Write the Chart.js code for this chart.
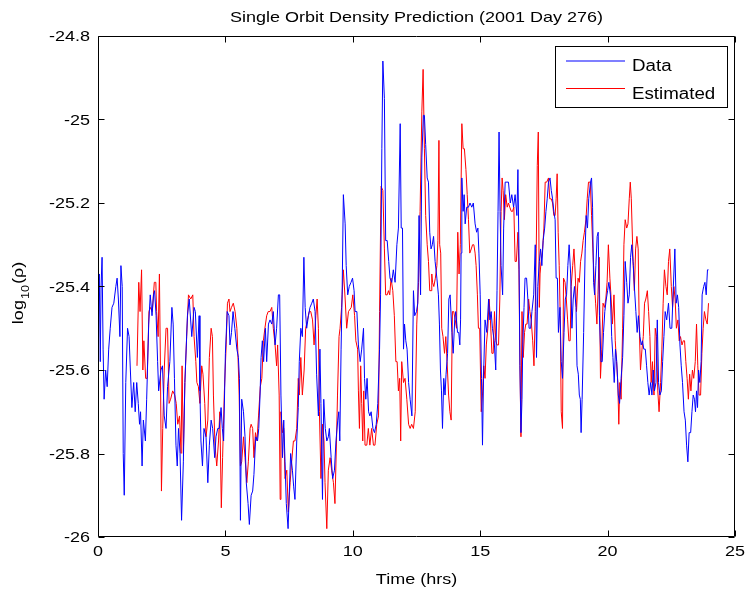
<!DOCTYPE html>
<html><head><meta charset="utf-8">
<script src="https://cdn.jsdelivr.net/npm/chart.js@4/dist/chart.umd.min.js"></script>
<style>html,body{margin:0;padding:0;background:#fff}#wrap{width:746px;height:592px}</style>
</head><body><div id="wrap"><canvas id="c" width="746" height="592"></canvas></div>
<script>
const chartTitle = "Single Orbit Density Prediction (2001 Day 276)";
const xLabel = "Time (hrs)";
const seriesNames = ["Data", "Estimated"];
const xTicks = [0, 5, 10, 15, 20, 25];
const xTickLabels = ["0", "5", "10", "15", "20", "25"];
const yTicks = [-26, -25.8, -25.6, -25.4, -25.2, -25, -24.8];
const yTickLabels = ["-26", "-25.8", "-25.6", "-25.4", "-25.2", "-25", "-24.8"];

const dataTimes = [0.00,0.05,0.09,0.12,0.16,0.20,0.24,0.30,0.36,0.42,0.48,0.55,0.62,0.70,0.75,0.80,0.86,0.90,0.95,0.99,
1.03,1.09,1.16,1.22,1.27,1.33,1.40,1.46,1.52,1.58,1.63,1.67,1.73,1.78,1.86,1.91,1.99,2.05,2.12,2.18,
2.22,2.28,2.34,2.38,2.47,2.53,2.60,2.67,2.73,2.82,2.90,2.95,3.00,3.06,3.11,3.16,3.22,3.28,3.35,3.41,
3.51,3.58,3.68,3.77,3.82,3.90,3.97,4.00,4.04,4.10,4.16,4.24,4.31,4.37,4.44,4.50,4.58,4.63,4.70,4.76,
4.83,4.88,4.93,5.00,5.07,5.14,5.18,5.24,5.30,5.37,5.45,5.51,5.55,5.59,5.64,5.71,5.77,5.82,5.89,5.94,
6.01,6.07,6.12,6.19,6.26,6.31,6.36,6.40,6.45,6.50,6.57,6.62,6.69,6.75,6.82,6.88,6.95,7.01,7.08,7.13,
7.18,7.24,7.29,7.34,7.39,7.46,7.51,7.56,7.63,7.68,7.73,7.80,7.86,7.90,7.96,8.02,8.08,8.13,8.19,8.26,
8.32,8.39,8.45,8.52,8.58,8.65,8.71,8.75,8.81,8.86,8.92,8.98,9.04,9.08,9.15,9.21,9.28,9.34,9.41,9.45,
9.49,9.54,9.58,9.63,9.70,9.74,9.80,9.86,9.93,9.99,10.05,10.09,10.16,10.22,10.29,10.35,10.42,10.46,10.51,10.56,
10.62,10.67,10.72,10.79,10.85,10.92,10.98,11.05,11.09,11.14,11.18,11.24,11.29,11.35,11.41,11.46,11.53,11.59,11.66,11.73,
11.79,11.86,11.90,11.95,11.99,12.03,12.08,12.13,12.19,12.25,12.32,12.38,12.43,12.50,12.55,12.60,12.66,12.71,12.77,12.81,
12.86,12.92,12.97,13.02,13.07,13.12,13.17,13.23,13.30,13.36,13.40,13.44,13.48,13.52,13.57,13.62,13.66,13.72,13.77,13.82,
13.89,13.94,14.00,14.04,14.11,14.16,14.20,14.23,14.25,14.28,14.33,14.37,14.41,14.47,14.54,14.60,14.67,14.73,14.80,14.86,
14.91,14.95,15.00,15.05,15.09,15.13,15.19,15.26,15.33,15.38,15.43,15.48,15.55,15.61,15.66,15.70,15.74,15.78,15.82,15.88,
15.92,15.98,16.05,16.11,16.18,16.24,16.31,16.37,16.44,16.48,16.52,16.56,16.60,16.64,16.67,16.72,16.76,16.82,16.87,16.92,
16.98,17.03,17.10,17.16,17.21,17.26,17.32,17.37,17.42,17.47,17.53,17.58,17.63,17.68,17.74,17.79,17.84,17.89,17.94,17.98,
18.03,18.07,18.13,18.18,18.23,18.29,18.34,18.39,18.44,18.49,18.55,18.60,18.65,18.70,18.76,18.80,18.85,18.89,18.93,18.96,
19.00,19.06,19.12,19.16,19.21,19.26,19.33,19.37,19.41,19.45,19.49,19.54,19.59,19.63,19.68,19.74,19.79,19.84,19.89,19.95,
20.00,20.05,20.11,20.16,20.21,20.26,20.31,20.36,20.42,20.47,20.53,20.59,20.64,20.69,20.75,20.80,20.85,20.90,20.95,21.01,
21.06,21.11,21.16,21.21,21.27,21.32,21.37,21.42,21.48,21.53,21.58,21.63,21.69,21.74,21.79,21.84,21.90,21.95,22.00,22.05,
22.11,22.16,22.21,22.26,22.32,22.39,22.45,22.52,22.58,22.64,22.69,22.74,22.79,22.84,22.89,22.94,23.00,23.05,23.10,23.15,
23.20,23.26,23.31,23.36,23.41,23.45,23.49,23.53,23.57,23.62,23.67,23.71,23.77,23.82,23.87,23.92,23.96];
const dataValues = [-25.47,-25.37,-25.58,-25.40,-25.33,-25.55,-25.67,-25.60,-25.64,-25.55,-25.50,-25.45,-25.44,-25.40,-25.38,-25.43,-25.52,-25.35,-25.40,-25.80,
-25.90,-25.63,-25.50,-25.52,-25.60,-25.69,-25.63,-25.70,-25.63,-25.68,-25.73,-25.70,-25.83,-25.72,-25.77,-25.67,-25.49,-25.42,-25.47,-25.42,
-25.41,-25.47,-25.58,-25.65,-25.60,-25.59,-25.71,-25.74,-25.64,-25.58,-25.45,-25.49,-25.62,-25.78,-25.83,-25.74,-25.80,-25.96,-25.82,-25.63,
-25.47,-25.43,-25.52,-25.45,-25.46,-25.57,-25.47,-25.65,-25.77,-25.83,-25.74,-25.76,-25.87,-25.78,-25.72,-25.74,-25.81,-25.76,-25.74,-25.74,
-25.69,-25.74,-25.77,-25.56,-25.46,-25.47,-25.54,-25.51,-25.46,-25.50,-25.55,-25.57,-25.62,-25.96,-25.67,-25.70,-25.76,-25.87,-25.92,-25.97,
-25.90,-25.89,-25.85,-25.76,-25.77,-25.74,-25.66,-25.57,-25.53,-25.58,-25.50,-25.58,-25.49,-25.48,-25.49,-25.46,-25.54,-25.50,-25.42,-25.42,
-25.66,-25.81,-25.72,-25.82,-25.92,-25.98,-25.89,-25.80,-25.84,-25.88,-25.91,-25.77,-25.69,-25.58,-25.50,-25.52,-25.33,-25.45,-25.50,-25.47,
-25.45,-25.44,-25.43,-25.46,-25.61,-25.71,-25.55,-25.68,-25.91,-25.67,-25.74,-25.77,-25.76,-25.74,-25.81,-25.86,-25.84,-25.77,-25.72,-25.70,
-25.77,-25.55,-25.42,-25.18,-25.25,-25.35,-25.42,-25.40,-25.39,-25.38,-25.41,-25.46,-25.46,-25.54,-25.58,-25.55,-25.50,-25.62,-25.67,-25.62,
-25.70,-25.71,-25.70,-25.74,-25.75,-25.73,-25.68,-25.55,-25.42,-25.07,-24.86,-24.95,-25.29,-25.29,-25.34,-25.38,-25.39,-25.36,-25.39,-25.30,
-25.26,-25.01,-25.26,-25.26,-25.55,-25.49,-25.53,-25.55,-25.63,-25.67,-25.71,-25.41,-25.47,-25.46,-25.44,-25.23,-25.42,-25.09,-24.99,-24.99,
-25.06,-25.14,-25.15,-25.27,-25.31,-25.30,-25.28,-25.34,-25.38,-25.42,-25.49,-25.60,-25.65,-25.74,-25.62,-25.66,-25.61,-25.56,-25.43,-25.42,
-25.51,-25.56,-25.48,-25.46,-25.51,-25.51,-25.54,-25.48,-25.32,-25.14,-25.22,-25.18,-25.25,-25.21,-25.21,-25.20,-25.21,-25.20,-25.25,-25.27,
-25.26,-25.32,-25.42,-25.62,-25.78,-25.62,-25.48,-25.51,-25.43,-25.48,-25.46,-25.50,-25.53,-25.60,-25.41,-25.22,-25.03,-25.22,-25.35,-25.42,
-25.26,-25.15,-25.15,-25.15,-25.20,-25.18,-25.21,-25.18,-25.23,-25.12,-25.31,-25.59,-25.75,-25.67,-25.54,-25.45,-25.38,-25.38,-25.43,-25.50,
-25.50,-25.46,-25.42,-25.30,-25.57,-25.40,-25.34,-25.31,-25.35,-25.29,-25.26,-25.22,-25.19,-25.15,-25.14,-25.17,-25.19,-25.22,-25.24,-25.38,
-25.38,-25.51,-25.45,-25.58,-25.62,-25.51,-25.43,-25.42,-25.35,-25.30,-25.37,-25.50,-25.43,-25.40,-25.45,-25.59,-25.61,-25.66,-25.67,-25.75,
-25.67,-25.51,-25.31,-25.23,-25.26,-25.19,-25.15,-25.14,-25.21,-25.39,-25.42,-25.35,-25.28,-25.27,-25.47,-25.58,-25.58,-25.51,-25.46,-25.43,
-25.41,-25.39,-25.42,-25.52,-25.57,-25.63,-25.55,-25.58,-25.66,-25.68,-25.62,-25.57,-25.47,-25.34,-25.39,-25.44,-25.42,-25.33,-25.30,-25.35,
-25.41,-25.46,-25.51,-25.47,-25.52,-25.54,-25.53,-25.55,-25.55,-25.59,-25.63,-25.66,-25.63,-25.66,-25.60,-25.65,-25.63,-25.48,-25.63,-25.66,
-25.65,-25.58,-25.52,-25.46,-25.48,-25.44,-25.50,-25.50,-25.40,-25.31,-25.44,-25.42,-25.45,-25.54,-25.59,-25.63,-25.70,-25.72,-25.78,-25.82,
-25.75,-25.75,-25.70,-25.66,-25.67,-25.70,-25.65,-25.69,-25.60,-25.63,-25.58,-25.42,-25.40,-25.39,-25.42,-25.36,-25.36];

const estTimes = [1.53,1.60,1.65,1.71,1.76,1.80,1.87,1.93,2.00,2.05,2.13,2.21,2.27,2.30,2.36,2.41,2.45,2.49,2.54,2.60,
2.67,2.73,2.79,2.85,2.93,3.01,3.07,3.13,3.20,3.26,3.30,3.35,3.41,3.48,3.55,3.64,3.72,3.77,3.84,3.88,
3.94,4.00,4.07,4.12,4.19,4.24,4.31,4.37,4.44,4.49,4.53,4.59,4.66,4.73,4.78,4.84,4.89,4.96,5.03,5.08,
5.14,5.18,5.24,5.31,5.38,5.45,5.49,5.54,5.59,5.64,5.71,5.77,5.84,5.90,5.97,6.01,6.07,6.12,6.18,6.24,
6.30,6.37,6.43,6.49,6.55,6.62,6.68,6.75,6.82,6.88,6.95,7.01,7.05,7.11,7.15,7.18,7.24,7.29,7.34,7.41,
7.47,7.54,7.60,7.67,7.73,7.80,7.86,7.90,7.96,8.02,8.09,8.15,8.22,8.29,8.35,8.42,8.48,8.55,8.60,8.65,
8.69,8.75,8.81,8.87,8.91,8.98,9.04,9.11,9.17,9.24,9.30,9.36,9.40,9.46,9.50,9.56,9.63,9.70,9.76,9.83,
9.94,10.00,10.07,10.12,10.19,10.22,10.26,10.31,10.35,10.39,10.43,10.48,10.55,10.61,10.67,10.74,10.81,10.87,10.94,11.01,
11.05,11.11,11.18,11.24,11.29,11.35,11.40,11.45,11.50,11.57,11.63,11.69,11.74,11.79,11.84,11.88,11.92,11.99,12.05,12.12,
12.19,12.25,12.31,12.38,12.45,12.51,12.58,12.64,12.71,12.76,12.81,12.86,12.92,12.97,13.02,13.07,13.10,13.13,13.18,13.24,
13.30,13.34,13.38,13.41,13.45,13.49,13.54,13.60,13.65,13.70,13.76,13.81,13.86,13.91,13.96,14.02,14.07,14.12,14.17,14.22,
14.28,14.33,14.38,14.44,14.49,14.54,14.59,14.65,14.70,14.75,14.80,14.84,14.89,14.93,14.98,15.04,15.09,15.14,15.19,15.24,
15.30,15.35,15.40,15.46,15.51,15.56,15.61,15.66,15.72,15.77,15.82,15.86,15.90,15.95,16.00,16.06,16.11,16.16,16.22,16.27,
16.32,16.37,16.42,16.48,16.52,16.56,16.60,16.64,16.69,16.74,16.79,16.84,16.90,16.95,17.00,17.06,17.11,17.16,17.20,17.24,
17.28,17.32,17.35,17.39,17.45,17.50,17.55,17.61,17.68,17.73,17.79,17.84,17.89,17.94,17.98,18.02,18.06,18.10,18.14,18.18,
18.23,18.27,18.33,18.38,18.43,18.48,18.53,18.57,18.63,18.68,18.73,18.78,18.84,18.89,18.94,18.99,19.04,19.09,19.15,19.20,
19.25,19.32,19.37,19.42,19.47,19.53,19.58,19.62,19.67,19.72,19.77,19.82,19.88,19.93,19.98,20.03,20.09,20.14,20.19,20.25,
20.30,20.35,20.40,20.44,20.48,20.53,20.59,20.64,20.69,20.75,20.80,20.85,20.89,20.93,21.00,21.05,21.10,21.15,21.20,21.24,
21.29,21.35,21.40,21.45,21.50,21.56,21.61,21.66,21.71,21.76,21.82,21.87,21.92,21.97,22.02,22.08,22.13,22.18,22.23,22.29,
22.34,22.39,22.44,22.50,22.55,22.60,22.65,22.70,22.76,22.81,22.86,22.92,22.97,23.02,23.07,23.12,23.17,23.22,23.27,23.33,
23.38,23.44,23.49,23.54,23.59,23.65,23.70,23.75,23.80,23.86,23.91,23.96];
const estValues = [-25.59,-25.39,-25.46,-25.36,-25.60,-25.53,-25.62,-25.62,-25.46,-25.45,-25.46,-25.39,-25.39,-25.46,-25.52,-25.37,-25.59,-25.89,-25.74,-25.60,
-25.50,-25.50,-25.68,-25.67,-25.65,-25.66,-25.68,-25.73,-25.71,-25.80,-25.59,-25.80,-25.63,-25.52,-25.42,-25.43,-25.42,-25.52,-25.58,-25.63,
-25.64,-25.68,-25.59,-25.61,-25.68,-25.76,-25.72,-25.57,-25.50,-25.52,-25.66,-25.78,-25.83,-25.77,-25.70,-25.93,-25.81,-25.65,-25.54,-25.44,
-25.43,-25.46,-25.45,-25.44,-25.46,-25.50,-25.56,-25.66,-25.83,-25.82,-25.76,-25.81,-25.87,-25.82,-25.74,-25.73,-25.74,-25.81,-25.75,-25.77,
-25.71,-25.64,-25.62,-25.53,-25.50,-25.47,-25.46,-25.46,-25.45,-25.50,-25.54,-25.59,-25.54,-25.66,-25.91,-25.70,-25.75,-25.74,-25.86,-25.84,
-25.94,-25.87,-25.82,-25.77,-25.77,-25.74,-25.62,-25.66,-25.57,-25.66,-25.60,-25.50,-25.48,-25.46,-25.46,-25.48,-25.54,-25.47,-25.43,-25.50,
-25.70,-25.86,-25.73,-25.77,-25.87,-25.98,-25.84,-25.81,-25.84,-25.87,-25.92,-25.77,-25.66,-25.52,-25.50,-25.45,-25.36,-25.43,-25.50,-25.46,
-25.45,-25.42,-25.47,-25.53,-25.55,-25.65,-25.74,-25.59,-25.68,-25.77,-25.65,-25.78,-25.78,-25.74,-25.78,-25.74,-25.78,-25.78,-25.73,-25.71,
-25.46,-25.16,-25.17,-25.31,-25.42,-25.42,-25.41,-25.42,-25.38,-25.41,-25.47,-25.58,-25.58,-25.65,-25.62,-25.77,-25.58,-25.63,-25.62,-25.67,
-25.73,-25.74,-25.73,-25.74,-25.70,-25.49,-25.39,-25.22,-24.98,-24.88,-25.07,-25.23,-25.30,-25.34,-25.41,-25.41,-25.37,-25.39,-25.40,-25.38,
-25.35,-25.29,-25.05,-25.30,-25.32,-25.50,-25.52,-25.56,-25.52,-25.58,-25.66,-25.70,-25.72,-25.46,-25.46,-25.48,-25.50,-25.27,-25.37,-25.30,
-25.01,-25.07,-25.07,-25.12,-25.18,-25.24,-25.32,-25.31,-25.30,-25.30,-25.32,-25.35,-25.42,-25.50,-25.50,-25.70,-25.66,-25.59,-25.62,-25.54,
-25.50,-25.43,-25.48,-25.56,-25.56,-25.46,-25.53,-25.54,-25.54,-25.43,-25.22,-25.14,-25.17,-25.24,-25.18,-25.21,-25.20,-25.21,-25.22,-25.22,
-25.21,-25.34,-25.34,-25.27,-25.36,-25.59,-25.76,-25.46,-25.57,-25.51,-25.49,-25.49,-25.43,-25.46,-25.48,-25.53,-25.59,-25.46,-25.31,-25.11,
-25.03,-25.45,-25.37,-25.34,-25.31,-25.26,-25.15,-25.15,-25.14,-25.19,-25.19,-25.20,-25.23,-25.23,-25.19,-25.13,-25.27,-25.35,-25.47,-25.70,
-25.74,-25.38,-25.39,-25.43,-25.48,-25.53,-25.53,-25.40,-25.35,-25.31,-25.37,-25.46,-25.38,-25.39,-25.34,-25.32,-25.29,-25.27,-25.24,-25.19,
-25.15,-25.15,-25.23,-25.31,-25.38,-25.44,-25.49,-25.42,-25.33,-25.62,-25.55,-25.44,-25.45,-25.43,-25.39,-25.30,-25.38,-25.43,-25.49,-25.42,
-25.53,-25.58,-25.63,-25.73,-25.63,-25.67,-25.50,-25.30,-25.24,-25.26,-25.25,-25.19,-25.15,-25.19,-25.34,-25.41,-25.31,-25.28,-25.31,-25.49,
-25.60,-25.55,-25.52,-25.44,-25.43,-25.41,-25.46,-25.52,-25.63,-25.58,-25.66,-25.50,-25.52,-25.65,-25.70,-25.63,-25.55,-25.44,-25.36,-25.40,
-25.42,-25.34,-25.31,-25.40,-25.45,-25.40,-25.43,-25.50,-25.48,-25.53,-25.52,-25.54,-25.53,-25.53,-25.58,-25.62,-25.67,-25.61,-25.65,-25.60,
-25.62,-25.58,-25.49,-25.59,-25.66,-25.66,-25.56,-25.50,-25.46,-25.48,-25.49,-25.44];

const seriesColors = ["#0000ff", "#ff0000"];
const FONT = "'Liberation Sans', Arial, Helvetica, sans-serif";

function toPoints(ts, vs) { return ts.map((t, i) => ({ x: t, y: vs[i] })); }

// slightly widened text, like the reference rendering
function wideText(ctx, text, x, y, size, sx, align) {
  ctx.save();
  ctx.translate(x, y);
  ctx.scale(sx, 1);
  ctx.font = size + 'px ' + FONT;
  ctx.textAlign = align;
  ctx.textBaseline = 'alphabetic';
  ctx.fillText(text, 0, 0);
  ctx.restore();
}

const decorPlugin = {
  id: 'decor',
  afterDraw(chart) {
    const { ctx, chartArea: a, scales } = chart;
    const xs = scales.x, ys = scales.y;
    const L = Math.round(a.left) + 0.5, R = Math.round(a.right) - 0.5;
    const T = Math.round(a.top) + 0.5, B = Math.round(a.bottom) - 0.5;
    ctx.save();
    ctx.strokeStyle = '#000';
    ctx.lineWidth = 1;
    ctx.beginPath();
    ctx.rect(L, T, R - L, B - T);
    const tl = 6;
    xTicks.forEach(v => {
      const p = Math.round(xs.getPixelForValue(v)) + 0.5;
      ctx.moveTo(p, B); ctx.lineTo(p, B - tl);
      ctx.moveTo(p, T); ctx.lineTo(p, T + tl);
    });
    yTicks.forEach(v => {
      const p = Math.round(ys.getPixelForValue(v)) + 0.5;
      ctx.moveTo(L, p); ctx.lineTo(L + tl, p);
      ctx.moveTo(R, p); ctx.lineTo(R - tl, p);
    });
    ctx.stroke();

    ctx.fillStyle = '#000';
    const TS = 15, SX = 1.2;
    yTicks.forEach((v, i) => {
      wideText(ctx, yTickLabels[i], 90, ys.getPixelForValue(v) + 5.3, TS, SX, 'right');
    });
    xTicks.forEach((v, i) => {
      wideText(ctx, xTickLabels[i], xs.getPixelForValue(v), 556, TS, SX, 'center');
    });
    wideText(ctx, chartTitle, (a.left + a.right) / 2, 22, TS, SX, 'center');
    wideText(ctx, xLabel, (a.left + a.right) / 2, 584, TS, SX, 'center');

    // y label log10(rho), rotated
    ctx.save();
    ctx.translate(23, 293);
    ctx.rotate(-Math.PI / 2);
    const big = 15, small = 10.5, ysx = 1.2;
    ctx.font = big + 'px ' + FONT; const w1 = ctx.measureText('log').width * ysx;
    ctx.font = small + 'px ' + FONT; const w2 = ctx.measureText('10').width * ysx;
    ctx.font = big + 'px ' + FONT; const w3 = ctx.measureText('(ρ)').width * ysx;
    let sx0 = -(w1 + w2 + w3 + 2) / 2;
    wideText(ctx, 'log', sx0, 0, big, ysx, 'left'); sx0 += w1 + 1;
    wideText(ctx, '10', sx0, 6, small, ysx, 'left'); sx0 += w2 + 1;
    wideText(ctx, '(ρ)', sx0, 0, big, ysx, 'left');
    ctx.restore();

    // legend
    const bx = 555.5, by = 46.5, bw = 172, bh = 61;
    ctx.fillStyle = '#fff';
    ctx.fillRect(bx, by, bw, bh);
    ctx.strokeStyle = '#000';
    ctx.lineWidth = 1;
    ctx.strokeRect(bx, by, bw, bh);
    const rowsY = [61, 88.5];
    const baseY = [71, 98.5];
    seriesNames.forEach((n, i) => {
      ctx.strokeStyle = seriesColors[i];
      ctx.lineWidth = 1.2;
      ctx.beginPath();
      ctx.moveTo(566, rowsY[i]); ctx.lineTo(625, rowsY[i]);
      ctx.stroke();
      ctx.fillStyle = '#000';
      wideText(ctx, n, 632, baseY[i], 16, 1.17, 'left');
    });
    ctx.restore();
  }
};

new Chart(document.getElementById('c'), {
  type: 'line',
  data: {
    datasets: [
      { label: seriesNames[0], data: toPoints(dataTimes, dataValues), borderColor: seriesColors[0], borderWidth: 1, pointRadius: 0, tension: 0, fill: false },
      { label: seriesNames[1], data: toPoints(estTimes, estValues), borderColor: seriesColors[1], borderWidth: 1, pointRadius: 0, tension: 0, fill: false }
    ]
  },
  options: {
    responsive: false,
    animation: false,
    events: [],
    layout: { padding: { top: 36, right: 11, left: 0, bottom: 0 } },
    plugins: { legend: { display: false }, title: { display: false }, tooltip: { enabled: false } },
    scales: {
      x: {
        type: 'linear', min: 0, max: 25,
        grid: { display: false, drawTicks: false },
        border: { display: false },
        afterBuildTicks: s => { s.ticks = xTicks.map(v => ({ value: v })); },
        afterFit: s => { s.height = 55; },
        ticks: { display: false }
      },
      y: {
        type: 'linear', min: -26, max: -24.8,
        grid: { display: false, drawTicks: false },
        border: { display: false },
        afterBuildTicks: s => { s.ticks = yTicks.map(v => ({ value: v })); },
        afterFit: s => { s.width = 98; },
        ticks: { display: false }
      }
    }
  },
  plugins: [decorPlugin]
});
</script></body></html>
